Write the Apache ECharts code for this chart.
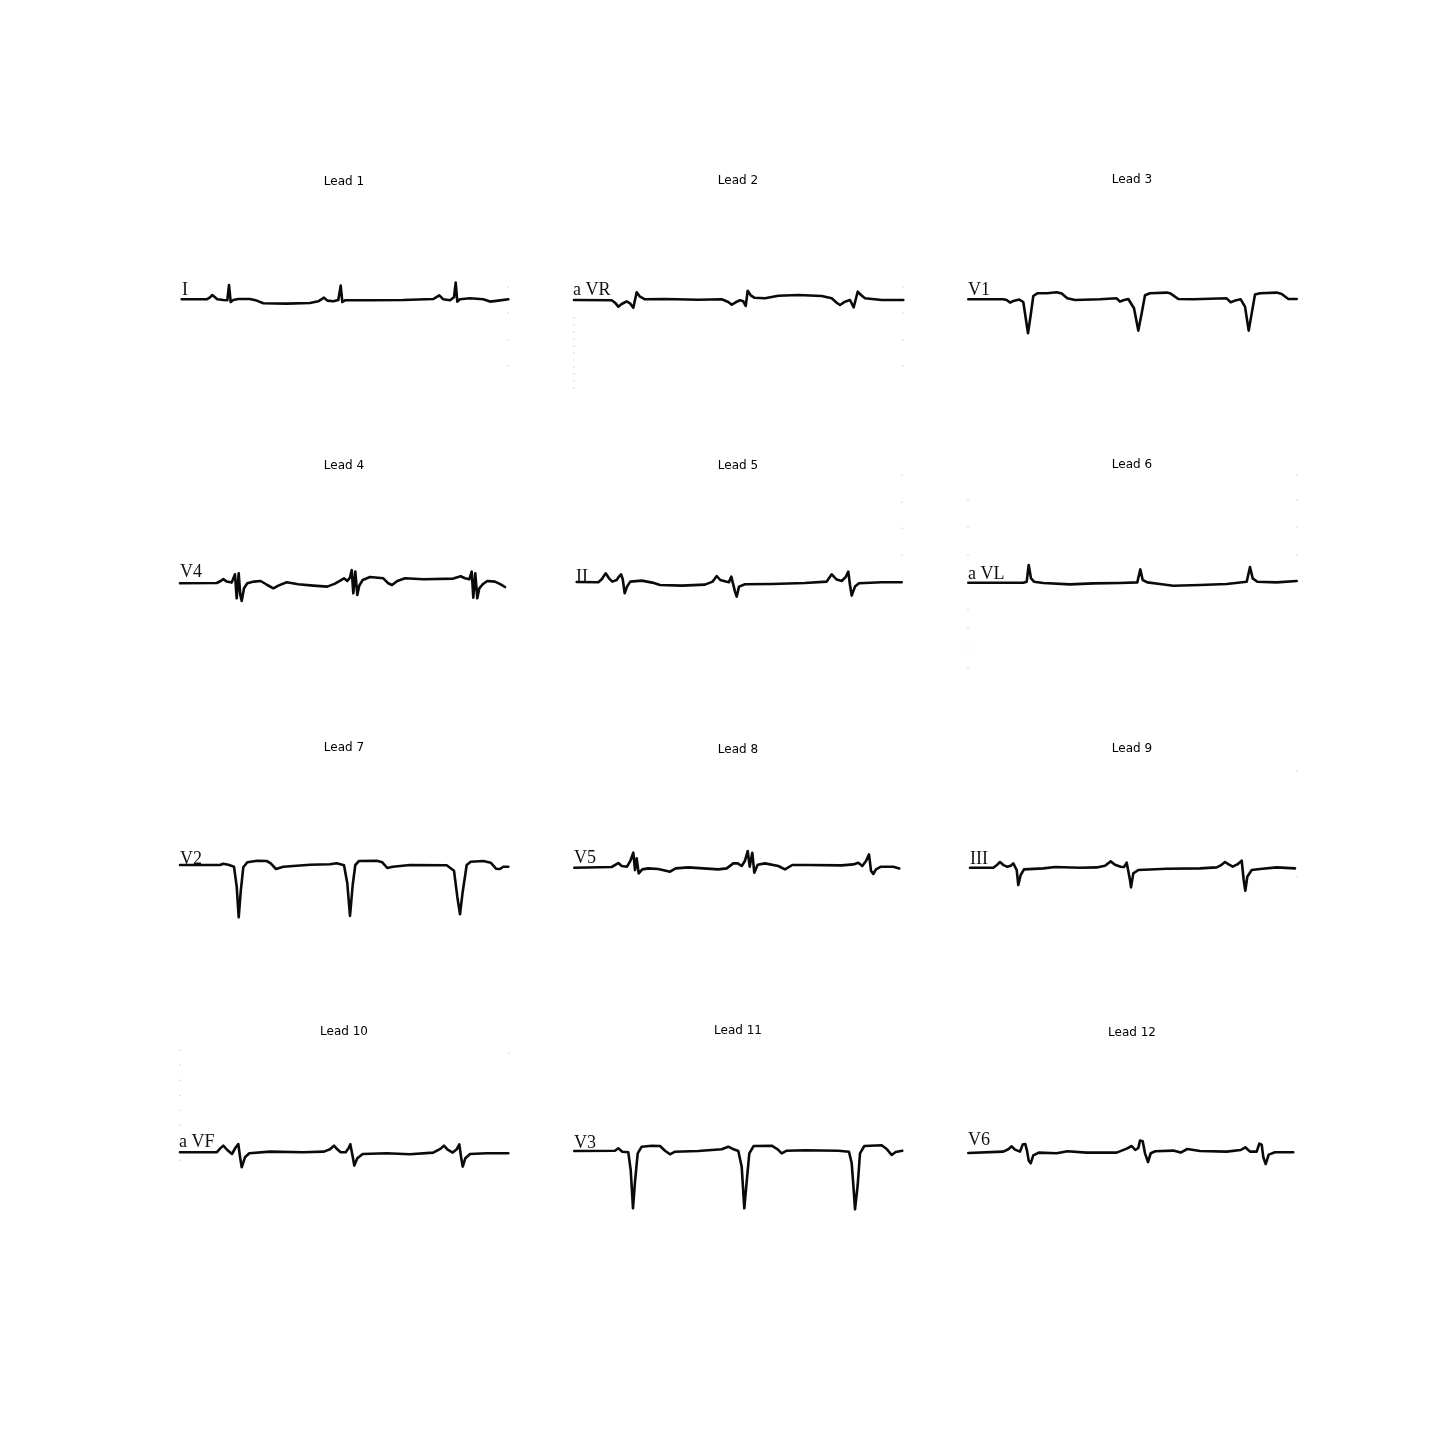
<!DOCTYPE html>
<html>
<head>
<meta charset="utf-8">
<script src="https://cdn.jsdelivr.net/npm/echarts@6/dist/echarts.min.js"></script>
<style>html,body{margin:0;padding:0;background:#fff;}#chart{width:1440px;height:1440px;}</style>
</head>
<body>
<div id="chart"></div>
<script>
// ---- data: each trace is [time, amplitude] pairs (time 0..330, amplitude relative to baseline, up positive)
const leadTitles = ['Lead 1','Lead 2','Lead 3','Lead 4','Lead 5','Lead 6','Lead 7','Lead 8','Lead 9','Lead 10','Lead 11','Lead 12'];
const leadNames = ['I','a VR','V1','V4','II','a VL','V2','V5','III','a VF','V3','V6'];

const lead1 = [[1.7,0],[26.7,0],[30,2],[32.3,4.3],[35,2],[37.3,0],[43.3,-0.7],[47.3,-1],[49,14.3],[50.7,-2.7],[53.3,-0.7],[58.3,0.3],[70,0.3],[76.7,-1.3],[83.3,-4],[106.7,-4.3],[130,-3.7],[138.3,-2],[144,1.7],[147.3,-1.3],[153.3,-2],[158.3,-0.7],[160.7,13.7],[162.3,-2.7],[165,-1],[190,-1],[223.3,-0.7],[253.3,0.3],[259.3,4],[263.3,0],[270,-1],[274,2],[275.7,16.7],[277.3,-2.3],[280,0],[290,1],[303.3,0],[310,-2.3],[318.3,-1.3],[328.3,0]];
const lead2 = [[0,0],[37.7,-0.3],[41,-2.7],[44.3,-6.7],[47.7,-4],[52.7,-1.3],[56,-3.3],[59.3,-7.7],[62.7,7.7],[66,3.3],[71,0.7],[91,1],[124.3,0.3],[147.7,0.7],[154.3,-2],[157.7,-4.7],[161.7,-2.3],[166,-0.3],[169.3,-1.3],[171.7,-6],[173.7,9.3],[176.7,4.7],[180.3,2.3],[191,1.7],[204.3,4.3],[224.3,5],[247.7,4],[257.7,1.7],[262.7,-2.7],[266,-5],[271,-1.7],[276,0],[279.7,-7.3],[283.7,8.3],[287,5],[291,1.7],[307.7,0],[329.3,0]];
const lead3 = [[0.3,0],[35.3,0],[38.7,-0.7],[42,-3.3],[45.3,-1.7],[51.3,-0.3],[55.3,-2.7],[58,-20.7],[60,-34],[62.7,-15.7],[65.3,3.3],[69.3,6],[78.7,6],[88.7,7],[93.7,5.7],[99.3,1],[107,-0.7],[132,0],[148.7,1],[152,-2.3],[155.3,-1],[160.3,0.3],[166,-9],[170.3,-31.3],[173.7,-14],[177,4],[182,6],[198.7,6.7],[202.7,5.7],[210.3,0.3],[225.3,0],[258.7,1],[262.7,-3],[267,-1.3],[272.7,0],[277,-7.3],[280.7,-31.3],[284,-12.3],[287,4.7],[292,6],[308.7,6.7],[313.7,5.3],[320.3,0.3],[328.7,0.3]];
const lead4 = [[0,0],[36.7,0.3],[40.7,2.3],[43.3,4.3],[46.7,1.7],[51.7,0.7],[55,9],[56.7,-15],[58.7,10],[60.3,-11.7],[61.7,-17.7],[64,-5],[67.3,0],[74,1.7],[80.7,2.3],[87.3,-1.7],[93.3,-5],[98.3,-2.3],[106.7,1],[118.3,-1],[133.3,-2.3],[147.3,-3.3],[155,-0.3],[160.7,3],[164,5],[167.3,2.3],[170,5.7],[171.7,13.3],[173.3,-10],[175.3,11.7],[177.3,-11.7],[179.3,-2.3],[182.7,3.3],[190,6.3],[203.3,5],[208.3,0],[212,-1.7],[217.3,2.3],[225,5],[243.3,4],[273.3,4.7],[280.7,7],[285,5],[289.3,4],[291.7,11.7],[293.3,-14.3],[295.3,10],[297.3,-15],[299.3,-5],[302.7,-1],[307.3,2.3],[315,1.7],[320.7,-1],[325,-3.7]];
const lead5 = [[2.7,0.3],[24.3,0],[27.7,3],[31.7,9],[35,4],[38.3,0.7],[42.7,2.3],[45,5.7],[47,8],[48.7,3.3],[50.7,-11],[53,-4.3],[56.3,0.7],[67.7,1.7],[78.3,-0.3],[86,-2.7],[107.7,-3.3],[131,-2.3],[138.7,0.7],[142.7,6.3],[146.3,2.3],[151.7,0.7],[155,0],[157.3,5.7],[159.3,7.3],[161,-9.3],[162.7,-14.3],[165,-4.3],[171,-2],[197.7,-1.7],[231,-0.7],[252.7,0.7],[257.7,8],[262.7,2.7],[267.7,1.3],[271.7,5.3],[274.3,10.7],[276,-2.7],[277.7,-13.3],[281,-4.3],[285,-1],[307.7,0],[327.7,0]];
const lead6 = [[0.3,0],[55.3,0],[58.7,1],[60.7,17.7],[63,4.3],[66,1],[75.3,-0.3],[102,-1.7],[125.3,-0.7],[152,-0.3],[169.3,0.3],[172.3,13.3],[174.7,2.7],[179.3,0.3],[192,-1.3],[205.3,-3],[232,-2.3],[258.7,-1.3],[278.7,1],[282,15.7],[284.7,4.3],[289.3,1],[308.7,0.3],[328.7,1.7]];
const lead7 = [[0,0],[40,0],[43.3,1.3],[48.3,0.3],[54,-1.7],[56.7,-21.7],[58.7,-52.3],[60.7,-26.7],[63.3,-2.3],[67.3,2.7],[77.3,4.3],[86.7,4],[90.7,1.7],[96,-4],[103.3,-1.7],[130,0.3],[150,0.7],[156.7,1.7],[164,-0.3],[167.3,-18.3],[170,-51],[172.7,-20],[175.3,0],[179,4],[196.7,4.3],[202.3,2.7],[207.3,-3],[212.7,-1.7],[230,0],[266.7,-0.3],[274,-5.7],[277.3,-31.7],[280,-49.3],[282.7,-26.7],[286.7,0],[290.7,3.3],[303.3,4],[310.7,2.3],[316,-3.7],[320,-4],[323.3,-1.7],[328.3,-1.7]];
const lead8 = [[0.3,0],[37.7,0.7],[41.7,3],[44.3,4.7],[47.7,1.7],[53,1],[56.3,6.7],[59.3,15],[61,-2.3],[62.7,9.3],[64.7,-5.7],[68.3,-1.7],[74.3,-0.7],[84.3,-1.3],[96,-4],[101.7,-0.7],[114.3,0.3],[144.3,-1.7],[152.7,-0.7],[159.3,4.3],[163.7,4.3],[167.7,1.7],[171,7],[173.7,16.7],[175.7,1],[178.3,15],[180.3,-5],[183.7,3],[191,4.3],[204.3,1.7],[211,-1.7],[218.3,2.7],[234.3,2.7],[267.7,2.3],[279.3,3.3],[284.3,5],[288.3,1.7],[292,6.7],[295,13.3],[297,-3],[299.3,-6.3],[302,-1.7],[307,1],[319.3,1],[325.3,-0.7]];
const lead9 = [[2,0],[25.3,0],[29.3,3],[32,5.7],[36,2.3],[39.3,1],[42.7,2],[45.3,4.3],[47.3,6],[48.7,-2.3],[50.3,-17.3],[52.7,-7.3],[56,-1.7],[75.3,-0.7],[87,0.7],[112,0],[128.7,0.3],[137,2],[142.7,6.3],[147,3],[152.7,1],[156,0.7],[158.7,5],[160.3,6.3],[162,-12.3],[163,-19.7],[165.3,-5.7],[170.3,-2.3],[198.7,-1],[232,-0.7],[248.7,0.3],[252.7,2.3],[257,5.7],[260.7,3.3],[264.7,1],[269.3,3.3],[273.7,7],[275.7,-12.3],[277.3,-23],[279.3,-9],[283.7,-2.3],[292,-1.3],[308.7,0.3],[327,-0.7]];
const lead10 = [[0,0],[36.7,0],[40,3.7],[43.3,6.7],[47.3,2.3],[52,-1.7],[55.3,4.3],[58.3,8.3],[60,-4.3],[61.7,-15],[65,-5],[69.3,-1],[90,0.7],[123.3,0],[144,0.7],[150,3],[154,6.7],[157.3,3],[160.7,0],[165.7,0],[168.7,4.3],[170.3,8],[172.7,-4.3],[174.3,-13.3],[177.3,-6],[182.7,-1.7],[206.7,-1],[230,-2],[253.3,-0.3],[260.7,3.7],[264,6.7],[267.3,3],[272.7,-0.3],[276.7,3],[279.3,8],[281,-4.3],[282.7,-14.3],[285.3,-6],[290,-1.7],[306.7,-1],[328.3,-1]];
const lead11 = [[0.3,0],[41,0.3],[44.3,2.7],[48.3,-0.7],[54.3,-1.3],[56.7,-19],[59,-57.3],[61,-30.7],[63.7,-2.3],[67.7,4.3],[77.7,5.3],[86,5],[91,0.3],[96,-3.3],[101,-0.7],[124.3,0],[147.7,1.7],[154.3,4.3],[158.3,2.3],[164.3,0],[167.7,-15.7],[170.3,-57.3],[172.7,-30.7],[175.3,-2.3],[179.7,5],[197.7,5.3],[203.7,1.7],[207.7,-2.3],[212.7,0.3],[231,0.7],[264.3,0.3],[275,-0.7],[277.7,-12.3],[279.7,-39],[281,-58.3],[283.7,-34],[286,-2.3],[290.3,5],[307.7,5.7],[313,1.7],[317.7,-4],[321.7,-1],[328.3,0.3]];
const lead12 = [[0.3,-0.7],[35.3,0.7],[40.3,3],[43.7,6],[47,2.7],[52,0.7],[54.7,7.7],[57.3,8.3],[59,1.7],[60.7,-8.3],[62.7,-11],[65.3,-3],[70.7,-0.3],[88.7,-1],[99.3,1],[118.7,-0.3],[148.7,-0.3],[158.7,3.7],[163.7,6.3],[167.3,2.3],[170.3,4.3],[172,11.7],[174.7,11],[177,-1],[180,-9.7],[182.7,-1],[187.3,1],[205.3,1.7],[212.7,-0.3],[219.3,3.3],[232,1.3],[258.7,0.7],[272.7,2.3],[277.3,5],[282,0.7],[288.7,0.7],[291.3,8.7],[293.7,7.7],[295.3,-5],[297.7,-11.7],[300.7,-2.3],[307,0],[325.3,0]];

// faint scan specks at the paper edges, same [time, amplitude] units
const dots1 = [[328,12.3],[328,-13.7],[328,-40.7],[328,-66.7]];
const dots2 = [[0,-18],[0,-25],[0,-32],[0,-39],[0,-46],[0,-53],[0,-60],[0,-67],[0,-74],[0,-81],[0,-88],[329,13],[329,-13],[329,-40],[329,-66]];
const dots3 = [];
const dots4 = [];
const dots5 = [[328,107],[328,80],[328,54],[328,27]];
const dots6 = [[0,82.7],[0,55.7],[0,27.7],[0,-27.3],[0,-45.3],[0,-65.3],[0,-85.3],[329,107.7],[329,82.7],[329,55.7],[329,27.7]];
const dots7 = [];
const dots8 = [];
const dots9 = [[329,96.7],[329,-9]];
const dots10 = [[0,102],[0,87],[0,72],[0,57],[0,42],[0,27],[0,-8],[329,99]];
const dots11 = [];
const dots12 = [];

const traces = [lead1, lead2, lead3, lead4, lead5, lead6, lead7, lead8, lead9, lead10, lead11, lead12];
const specks = [dots1, dots2, dots3, dots4, dots5, dots6, dots7, dots8, dots9, dots10, dots11, dots12];

// ---- layout (page pixels)
const colLeft = [180, 574, 968];
const panelWidth = 330;
const baselineY = [299.3, 300, 299.3, 583.3, 582.3, 582.7, 865, 867.7, 867.7, 1152.3, 1151, 1152.3];
const titleY = [182, 181, 180, 466, 466, 465, 748, 750, 749, 1032, 1031, 1033];
const labelPos = [[182,290],[573,290],[968,290.5],[180,572.5],[576,577],[968,574],[180,859],[574,858.5],[970,859],[179,1142.5],[574,1143],[968,1140]];
const half = 100;

const grids = [], xAxes = [], yAxes = [], series = [], graphics = [];
traces.forEach((tr, i) => {
  const col = i % 3;
  grids.push({left: colLeft[col], top: baselineY[i] - half, width: panelWidth, height: half * 2});
  xAxes.push({type: 'value', gridIndex: i, min: 0, max: panelWidth, show: false});
  yAxes.push({type: 'value', gridIndex: i, min: -half, max: half, show: false});
  series.push({
    type: 'line', xAxisIndex: i, yAxisIndex: i, data: tr, showSymbol: false,
    lineStyle: {color: '#0a0a0a', width: 2.6, join: 'round', cap: 'round'},
    clip: false, animation: false, silent: true
  });
  if (specks[i].length) {
    series.push({
      type: 'scatter', xAxisIndex: i, yAxisIndex: i, data: specks[i], symbolSize: 1.6,
      itemStyle: {color: '#c8c8c8'}, clip: false, animation: false, silent: true
    });
  }
  graphics.push({type: 'text', x: colLeft[col] + panelWidth / 2 - 1, y: titleY[i],
    style: {text: leadTitles[i], fill: '#000', font: '12px "DejaVu Sans"', align: 'center', verticalAlign: 'middle'}});
  graphics.push({type: 'text', x: labelPos[i][0], y: labelPos[i][1],
    style: {text: leadNames[i], fill: '#111', font: '18px "Liberation Serif"', verticalAlign: 'middle', align: 'left'}});
});

const chart = echarts.init(document.getElementById('chart'), null, {renderer: 'canvas'});
chart.setOption({
  animation: false,
  backgroundColor: '#ffffff',
  grid: grids, xAxis: xAxes, yAxis: yAxes, series: series, graphic: graphics
});
</script>
</body>
</html>
